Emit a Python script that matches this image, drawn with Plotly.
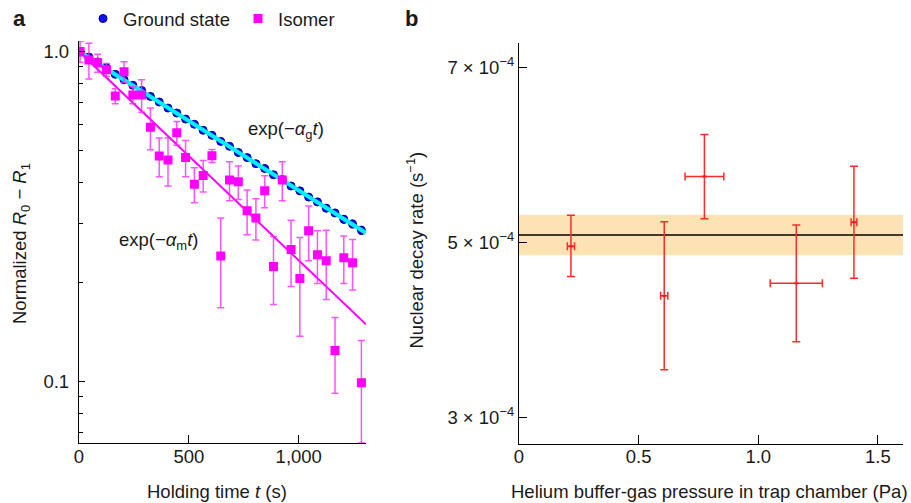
import math
import plotly.graph_objects as go

# ---------------- Panel a data ----------------
hold_time = [5, 45, 85, 125, 165, 205, 245, 285, 325, 365, 405, 445, 485, 525, 565,
             605, 645, 685, 725, 765, 805, 845, 885, 925, 965, 1005, 1045, 1085,
             1125, 1165, 1205, 1245, 1285]
ground_vals = [0.995, 0.962, 0.930, 0.893, 0.853, 0.821, 0.790, 0.762, 0.731, 0.703,
               0.674, 0.651, 0.624, 0.602, 0.577, 0.557, 0.534, 0.516, 0.494, 0.477,
               0.457, 0.442, 0.423, 0.409, 0.391, 0.378, 0.362, 0.350, 0.335, 0.324,
               0.310, 0.300, 0.287]
ground_err = [0.008] * 33
isomer_vals = [1.0, 0.942, 0.924, 0.880, 0.733, 0.868, 0.738, 0.738, 0.589, 0.482,
               0.469, 0.567, 0.477, 0.396, 0.421, 0.483, 0.240, 0.408, 0.403, 0.329,
               0.313, 0.378, 0.223, 0.408, 0.251, 0.205, 0.286, 0.242, 0.232, 0.124,
               0.237, 0.229, 0.099]
isomer_err = [0.072, 0.117, 0.058, 0.040, 0.038, 0.063, 0.044, 0.083, 0.085, 0.065,
              0.078, 0.047, 0.060, 0.048, 0.046, 0.022, 0.073, 0.055, 0.047, 0.051,
              0.045, 0.042, 0.052, 0.055, 0.057, 0.068, 0.054, 0.044, 0.055, 0.032,
              0.039, 0.040, 0.034]
alpha_g = 9.7e-4     # fitted ground-state rate (s^-1)
alpha_m = 1.4585e-3  # fitted isomer rate (s^-1)
fit_t = [0, 1306]

# ---------------- Panel b data ----------------
pressure = [0.217, 0.607, 0.775, 1.159, 1.400]
pressure_err = [0.015, 0.015, 0.081, 0.109, 0.012]
rate = [4.954e-4, 4.387e-4, 5.754e-4, 4.531e-4, 5.229e-4]
rate_err_plus = [0.355e-4, 0.849e-4, 0.480e-4, 0.667e-4, 0.643e-4]
rate_err_minus = [0.346e-4, 0.846e-4, 0.484e-4, 0.670e-4, 0.640e-4]
rate_mean = 5.084e-4
rate_band = [4.851e-4, 5.316e-4]

ytick_a_vals = [0.1, 1.0]
ytick_a_text = ["0.1", "1.0"]
yminor_a = [0.07, 0.08, 0.09, 0.2, 0.3, 0.4, 0.5, 0.6, 0.7, 0.8, 0.9]
xtick_a_vals = [0, 500, 1000]
xtick_a_text = ["0", "500", "1,000"]
ytick_b_vals = [3e-4, 5e-4, 7e-4]
ytick_b_text = ["3 × 10<sup>−4</sup>", "5 × 10<sup>−4</sup>", "7 × 10<sup>−4</sup>"]
xtick_b_vals = [0, 0.5, 1.0, 1.5]
xtick_b_text = ["0", "0.5", "1.0", "1.5"]

W, H = 911, 503
FONT = "Liberation Sans, Arial, sans-serif"
FS = 18.5
TXT = "#1a1a1a"
MAG = "#FF00FF"
MAG_ERR = "rgba(255,40,255,0.8)"

fig = go.Figure()

# ground state
fig.add_trace(go.Scatter(
    x=hold_time, y=ground_vals, mode="markers", name="Ground state",
    marker=dict(symbol="circle", size=8, color="#1010FF", line=dict(color="#000090", width=1)),
    error_y=dict(type="data", array=ground_err, color="#000090", thickness=1, width=2),
    xaxis="x", yaxis="y"))
fig.add_trace(go.Scatter(
    x=fit_t, y=[math.exp(-alpha_g * t) for t in fit_t], mode="lines", showlegend=False,
    line=dict(color="#00F0FF", width=4), xaxis="x", yaxis="y"))
# isomer
fig.add_trace(go.Scatter(
    x=fit_t, y=[math.exp(-alpha_m * t) for t in fit_t], mode="lines", showlegend=False,
    line=dict(color=MAG, width=2), xaxis="x", yaxis="y"))
fig.add_trace(go.Scatter(
    x=hold_time, y=isomer_vals, mode="markers", name="Isomer",
    marker=dict(symbol="square", size=9, color=MAG),
    error_y=dict(type="data", array=isomer_err, color=MAG_ERR, thickness=1.5, width=3.5),
    xaxis="x", yaxis="y"))

# panel b
fig.add_trace(go.Scatter(
    x=[0, 1.605, 1.605, 0], y=[rate_band[0], rate_band[0], rate_band[1], rate_band[1]],
    fill="toself", fillcolor="#FDE3B3", line=dict(width=0), mode="lines",
    showlegend=False, xaxis="x2", yaxis="y2", hoverinfo="skip"))
fig.add_trace(go.Scatter(
    x=[0, 1.605], y=[rate_mean, rate_mean], mode="lines", showlegend=False,
    line=dict(color="black", width=1.3), xaxis="x2", yaxis="y2"))
fig.add_trace(go.Scatter(
    x=pressure, y=rate, mode="markers", showlegend=False,
    marker=dict(size=3, color="#FF1A1A", symbol="line-ew", line=dict(color="#FF1A1A", width=2)),
    error_y=dict(type="data", symmetric=False, array=rate_err_plus, arrayminus=rate_err_minus,
                 color="#FF2A2A", thickness=1.5, width=4),
    error_x=dict(type="data", array=pressure_err, color="#FF2A2A", thickness=1.5, width=4),
    xaxis="x2", yaxis="y2"))

axis_common = dict(showline=True, linecolor="black", linewidth=1.3, ticks="inside",
                   tickcolor="black", tickwidth=1.2, showgrid=False, zeroline=False,
                   tickfont=dict(family=FONT, size=FS, color=TXT), automargin=False)

fig.update_layout(
    width=W, height=H, margin=dict(l=0, r=0, t=0, b=0),
    paper_bgcolor="white", plot_bgcolor="white",
    font=dict(family=FONT, size=FS, color=TXT),
    xaxis=dict(domain=[79 / W, 366 / W], range=[0, 1306], tickvals=xtick_a_vals,
               ticktext=xtick_a_text, ticklen=8, anchor="y", ticklabelstandoff=-4, **axis_common),
    yaxis=dict(domain=[1 - 443.3 / H, 1 - 40 / H], type="log",
               range=[math.log10(0.0648), math.log10(1.077)],
               tickvals=ytick_a_vals, ticktext=ytick_a_text, ticklen=6, anchor="x",
               ticklabelstandoff=5,
               minor=dict(tickvals=yminor_a, ticks="inside", ticklen=4, tickcolor="black",
                          tickwidth=1.1),
               **axis_common),
    xaxis2=dict(domain=[519 / W, 903 / W], range=[0, 1.605], tickvals=xtick_b_vals,
                ticktext=xtick_b_text, ticklen=9, anchor="y2", ticklabelstandoff=-4, **axis_common),
    yaxis2=dict(domain=[1 - 444 / H, 1 - 41.7 / H], range=[2.69e-4, 7.286e-4],
                tickvals=ytick_b_vals, ticktext=ytick_b_text, ticklen=8, anchor="x2",
                ticklabelstandoff=0, **axis_common),
    legend=dict(orientation="h", x=83 / W, y=1 - 18 / H, xanchor="left", yanchor="middle",
                font=dict(family=FONT, size=FS, color=TXT), bgcolor="rgba(0,0,0,0)",
                itemwidth=30, tracegroupgap=0, entrywidth=110, entrywidthmode="pixels"),
    showlegend=True,
)

annots = [
    ("<b>a</b>", 19 / W, 1 - 18 / H, 0, 22),
    ("<b>b</b>", 411 / W, 1 - 18 / H, 0, 22),
    ("Holding time <i>t</i> (s)", 217 / W, 1 - 491 / H, 0, FS),
    ("Normalized <i>R</i><sub>0</sub> − <i>R</i><sub>1</sub>", 21 / W, 1 - 243.5 / H, -90, FS),
    ("Nuclear decay rate (s<sup>−1</sup>)", 415 / W, 1 - 250 / H, -90, FS),
    ("Helium buffer-gas pressure in trap chamber (Pa)", 709 / W, 1 - 491 / H, 0, FS),
]
for text, ax_, ay_, ang, size in annots:
    fig.add_annotation(xref="paper", yref="paper", showarrow=False, xanchor="center",
                       yanchor="middle", text=text, x=ax_, y=ay_, textangle=ang,
                       font=dict(family=FONT, size=size, color=TXT))

# fit labels (data coords) and leader lines
label_g_pos = (942, 0.579)
label_m_pos = (360, 0.267)
leader_g = ([832, 832], [0.5366, 0.455])
leader_m = ([517.5, 611.3], [0.307, 0.411])
fig.add_annotation(x=label_g_pos[0], y=math.log10(label_g_pos[1]), xref="x", yref="y",
                   text="exp(−<i>α</i><sub>g</sub><i>t</i>)", showarrow=False,
                   font=dict(family=FONT, size=FS, color=TXT))
fig.add_annotation(x=label_m_pos[0], y=math.log10(label_m_pos[1]), xref="x", yref="y",
                   text="exp(−<i>α</i><sub>m</sub><i>t</i>)", showarrow=False,
                   font=dict(family=FONT, size=FS, color=TXT))
for lx, ly in (leader_g, leader_m):
    fig.add_shape(type="line", xref="x", yref="y", x0=lx[0], x1=lx[1],
                  y0=math.log10(ly[0]), y1=math.log10(ly[1]),
                  line=dict(color="black", width=1.1))

fig.write_html("out.html", config={"displayModeBar": False},
               post_script="document.body.style.margin='0';document.body.style.overflow='hidden';")
